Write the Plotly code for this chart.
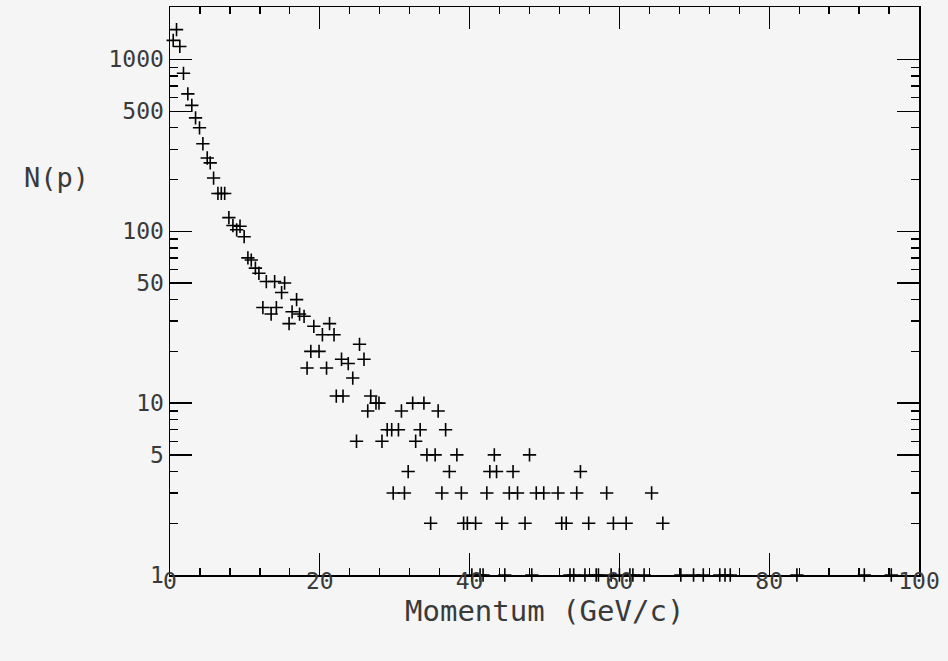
import plotly.graph_objects as go

# Momentum (GeV/c) and counts N(p)
momentum = [
    0.43, 0.87, 1.31, 1.8, 2.38, 2.91, 3.41, 3.94, 4.39, 4.97, 5.37, 5.82,
    6.4, 6.85, 7.3, 7.86, 8.4, 8.9, 9.35, 9.9, 10.4, 10.85, 11.4, 11.87,
    12.86, 13.97, 15.3, 14.9, 16.9, 12.4, 13.5, 14.2, 16.3, 17.3, 17.9, 15.9,
    19.2, 21.3, 20.35, 21.9, 25.3, 18.8, 19.9, 22.9, 23.8, 25.9, 18.3, 20.9,
    24.4, 22.2, 23.1, 26.8, 27.5, 27.9, 26.4, 30.9, 32.4, 33.9, 35.8, 29.0,
    29.6, 30.5, 33.4, 36.8, 24.9, 28.3, 32.8, 34.3, 35.4, 38.3, 43.3, 48.0,
    31.8, 37.3, 42.7, 43.6, 45.8, 54.8, 29.8, 31.3, 36.3, 38.9, 42.3, 45.3,
    46.4, 48.9, 49.9, 51.8, 54.3, 58.3, 64.3, 34.8, 39.2, 39.7, 40.8, 44.3,
    47.4, 52.3, 52.9, 55.9, 59.2, 60.9, 65.8,
    40.3, 41.4, 41.8, 44.7, 48.3, 53.4, 53.9, 55.4, 56.9, 57.2, 58.9, 60.0,
    61.4, 61.8, 63.3, 68.2, 69.9, 71.2, 73.4, 74.1, 74.8, 83.7, 92.7, 96.3,
]
counts = [
    1290, 1490, 1190, 830, 630, 540, 457, 400, 323, 267, 250, 204,
    166, 166, 166, 120, 108, 102, 107, 93, 70, 68, 61, 57,
    51, 51, 50, 44, 40, 36, 33, 36, 34, 33, 32, 29,
    28, 29, 25, 25, 22, 20, 20, 18, 17, 18, 16, 16,
    14, 11, 11, 11, 10, 10, 9, 9, 10, 10, 9, 7,
    7, 7, 7, 7, 6, 6, 6, 5, 5, 5, 5, 5,
    4, 4, 4, 4, 4, 4, 3, 3, 3, 3, 3, 3,
    3, 3, 3, 3, 3, 3, 3, 2, 2, 2, 2, 2,
    2, 2, 2, 2, 2, 2, 2,
    1, 1, 1, 1, 1, 1, 1, 1, 1, 1, 1, 1,
    1, 1, 1, 1, 1, 1, 1, 1, 1, 1, 1, 1,
]

x_major_ticks = [0, 20, 40, 60, 80, 100]
y_major_ticks = [1, 5, 10, 50, 100, 500, 1000]
y_minor_ticks = [2, 3, 4, 6, 7, 8, 9, 20, 30, 40, 60, 70, 80, 90,
                 200, 300, 400, 600, 700, 800, 900]

bg = "#f5f5f5"
txt = "#3a3a3a"
tick_font = dict(family="DejaVu Sans Mono", size=23, color=txt)

fig = go.Figure()
fig.add_trace(go.Scatter(
    x=momentum, y=counts, mode="markers",
    marker=dict(symbol="cross-thin", size=9.5,
                line=dict(width=1.6, color="black"), color="black"),
    cliponaxis=False, showlegend=False, hoverinfo="skip",
))

fig.update_layout(
    width=948, height=661,
    margin=dict(l=170, r=29, t=7, b=86, autoexpand=False),
    paper_bgcolor=bg, plot_bgcolor=bg,
    xaxis=dict(
        range=[0, 100], showgrid=False, zeroline=False,
        showline=True, linecolor="black", linewidth=1.5, mirror="allticks",
        ticks="inside", ticklen=22, tickwidth=1.3, tickcolor="black",
        tickvals=x_major_ticks, ticktext=[str(v) for v in x_major_ticks],
        tickfont=tick_font, ticklabelstandoff=-15,
        minor=dict(dtick=4, tick0=0, ticks="inside", ticklen=7,
                   tickwidth=1.3, tickcolor="black", showgrid=False),
    ),
    yaxis=dict(
        type="log", range=[0, 3.305], showgrid=False, zeroline=False,
        showline=True, linecolor="black", linewidth=1.5, mirror="allticks",
        ticks="inside", ticklen=22, tickwidth=1.3, tickcolor="black",
        tickvals=y_major_ticks, ticktext=[str(v) for v in y_major_ticks],
        tickfont=tick_font, ticklabelstandoff=0,
        minor=dict(tickmode="array", tickvals=y_minor_ticks, ticks="inside",
                   ticklen=8, tickwidth=1.3, tickcolor="black", showgrid=False),
    ),
    annotations=[
        dict(text="N(p)", xref="paper", yref="paper", x=-0.152, y=0.699,
             xanchor="center", yanchor="middle", showarrow=False,
             font=dict(family="DejaVu Sans Mono", size=27, color=txt)),
        dict(text="Momentum (GeV/c)", xref="paper", yref="paper", x=0.5, y=-0.063,
             xanchor="center", yanchor="middle", showarrow=False,
             font=dict(family="DejaVu Sans Mono", size=29, color=txt)),
    ],
)

page_js = ("document.body.style.margin='0';"
           "document.body.style.background='#f5f5f5';")
fig.write_html("out.html", post_script=page_js,
               config={"displayModeBar": False, "staticPlot": True})
